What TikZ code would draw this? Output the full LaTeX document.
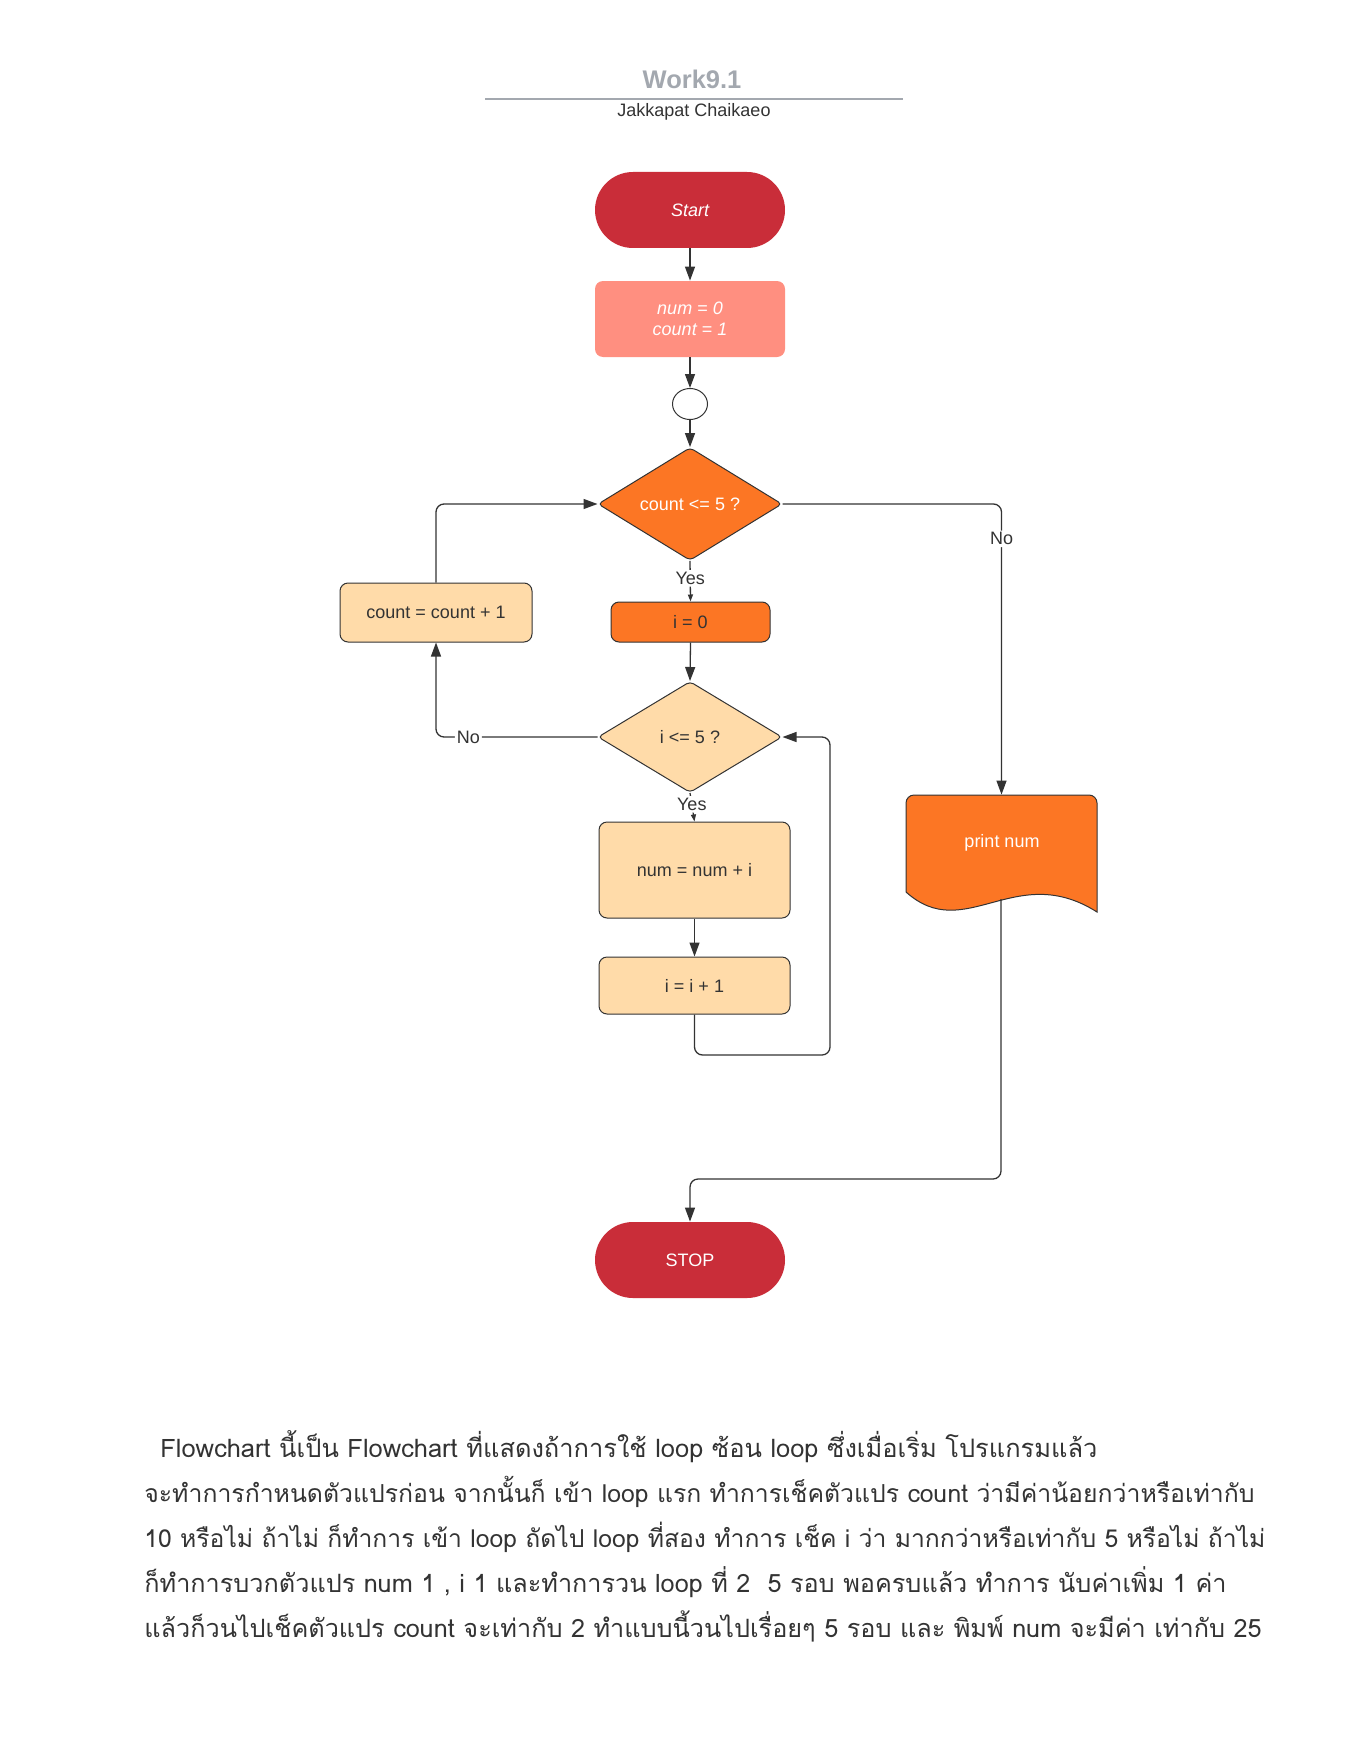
\documentclass[tikz,border=0pt]{standalone}
\usepackage{fontspec}
\setmainfont{Liberation Sans}
\newfontfamily\thaifont[Script=Thai]{Loma}
\usetikzlibrary{shapes.geometric,arrows.meta}

\definecolor{termred}{HTML}{C92D39}
\definecolor{salmon}{HTML}{FF8F80}
\definecolor{orangefill}{HTML}{FC7624}
\definecolor{peach}{HTML}{FFDBA9}
\definecolor{edgegray}{HTML}{333333}
\definecolor{ink}{HTML}{333333}
\definecolor{titlegray}{HTML}{A3A8AF}

% one line of the description, stretched to its measured width
\newcommand{\descline}[2]{\resizebox{#1}{!}{#2}}

\begin{document}
\begin{tikzpicture}[x=0.5pt,y=-0.5pt,
  txt/.style={font=\fontsize{9}{10.5}\selectfont},
  terminal/.style={txt, rectangle, rounded corners=19pt, fill=termred, text=white,
    minimum width=95pt, minimum height=38pt, inner sep=0pt},
  procbox/.style={txt, rectangle, rounded corners=4pt, draw=edgegray, line width=0.5pt,
    fill=peach, text=ink, inner sep=0pt},
  decision/.style={txt, diamond, rounded corners=2pt, draw=edgegray, line width=0.5pt,
    minimum width=92pt, minimum height=55.5pt, inner sep=0pt},
  conn/.style={draw=edgegray, line width=0.65pt, rounded corners=4pt},
  arr/.style={conn, -{Triangle[length=7pt,width=5pt]}},
  smallarr/.style={conn, -{Triangle[length=3.5pt,width=2.5pt]}},
  edgelabel/.style={txt, text=ink, fill=white, inner sep=1pt},
  thailine/.style={anchor=base west, inner sep=0pt, text=ink,
    font=\thaifont\fontsize{13}{16}\selectfont},
]
\useasboundingbox (0,0) rectangle (1360,1760);

% heading
\node[anchor=base, text=titlegray, font=\bfseries\fontsize{12.75}{14}\selectfont] (title) at (692,89) {Work9.1};
\draw[titlegray, line width=0.65pt] (485,99) -- (903,99);
\node[anchor=base, text=ink, font=\fontsize{9}{10.5}\selectfont] (author) at (694,117) {Jakkapat Chaikaeo};

% flowchart nodes
\node[terminal, font=\itshape\fontsize{9}{10.5}\selectfont] (start) at (690,210) {Start};
\node[txt, rectangle, rounded corners=4pt, fill=salmon, text=white, font=\itshape\fontsize{9}{10.5}\selectfont,
  minimum width=95pt, minimum height=38pt, align=center, inner sep=0pt] (init) at (690,319) {num = 0\\count = 1};
\node[ellipse, draw=edgegray, line width=0.5pt, fill=white, minimum width=17.5pt, minimum height=15.5pt, inner sep=0pt] (join) at (690,404) {};
\node[decision, fill=orangefill, text=white] (outer) at (690,504) {count <= 5 ?};
\node[procbox, fill=orangefill, minimum width=79.5pt, minimum height=20pt] (izero) at (690.5,622) {i = 0};
\node[procbox, minimum width=96pt, minimum height=29.5pt] (countinc) at (436,612.5) {count = count + 1};
\node[decision, fill=peach, text=ink] (inner) at (690,737) {i <= 5 ?};
\node[procbox, minimum width=95.5pt, minimum height=48pt] (sum) at (694.5,870) {num = num + i};
\node[procbox, minimum width=95.5pt, minimum height=28.5pt] (iinc) at (694.5,985.5) {i = i + 1};
\node[terminal] (stop) at (690,1260) {STOP};

% print document: flat top with rounded corners, wavy bottom
\node[minimum width=95.5pt, minimum height=58.5pt, inner sep=0pt] (print) at (1001.5,853.5) {};
\fill[orangefill, draw=edgegray, line width=0.5pt]
  (906,892) -- (906,803) arc[start angle=180, end angle=90, radius=4pt]
  -- (1089,795) arc[start angle=90, end angle=0, radius=4pt]
  -- (1097,912) .. controls (1015,860) and (965,945) .. (906,892) -- cycle;
\node[txt, text=white] (printtxt) at (1002,843) {print num};
\coordinate (pbot) at (1001,899);
\coordinate (merge) at (1001,1179);
\coordinate (loopback) at (830,1055);

% connectors
\draw[arr] (start.south) -- (init.north);
\draw[arr] (init.south) -- (join.north);
\draw[arr] (join.south) -- (outer.north);
\draw[smallarr] (outer.south) -- node[edgelabel, pos=0.43] {Yes} (izero.north);
\draw[arr] (izero.south) -- (inner.north);
\draw[arr] (inner.west) -- node[edgelabel, pos=0.8] {No} (countinc.south |- inner.west) -- (countinc.south);
\draw[arr] (countinc.north) |- (outer.west);
\draw[smallarr] (inner.south) -- node[edgelabel, pos=0.4] {Yes} (sum.north);
\draw[arr] (sum.south) -- (iinc.north);
\draw[arr] (iinc.south) |- (loopback) |- (inner.east);
\draw[arr] (outer.east) -| node[edgelabel, pos=0.56] {No} (print.north);
\draw[arr] (pbot) -- (merge) -| (stop.north);

% description
\node[thailine] (l1) at (160,1457) {\descline{468.5pt}{Flowchart นี้เป็น Flowchart ที่แสดงถ้าการใช้ loop ซ้อน loop ซึ่งเมื่อเริ่ม โปรแกรมแล้ว}};
\node[thailine] (l2) at (144,1502) {\descline{555pt}{จะทำการกำหนดตัวแปรก่อน จากนั้นก็ เข้า loop แรก ทำการเช็คตัวแปร count ว่ามีค่าน้อยกว่าหรือเท่ากับ}};
\node[thailine] (l3) at (144,1547) {\descline{560.5pt}{10 หรือไม่ ถ้าไม่ ก็ทำการ เข้า loop ถัดไป loop ที่สอง ทำการ เช็ค i ว่า มากกว่าหรือเท่ากับ 5 หรือไม่ ถ้าไม่}};
\node[thailine] (l4) at (144,1592) {\descline{541pt}{ก็ทำการบวกตัวแปร num 1 , i 1 และทำการวน loop ที่ 2\ \ 5 รอบ พอครบแล้ว ทำการ นับค่าเพิ่ม 1 ค่า}};
\node[thailine] (l5) at (144,1637) {\descline{558.5pt}{แล้วก็วนไปเช็คตัวแปร count จะเท่ากับ 2 ทำแบบนี้วนไปเรื่อยๆ 5 รอบ และ พิมพ์ num จะมีค่า เท่ากับ 25}};
\end{tikzpicture}
\end{document}
